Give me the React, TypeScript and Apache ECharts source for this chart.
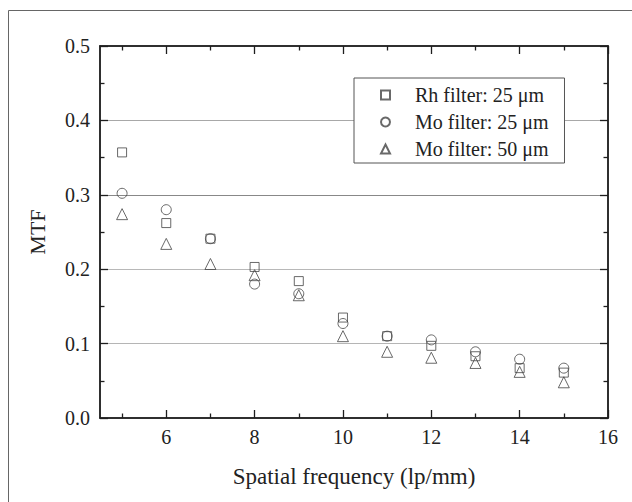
import React, { useEffect, useRef } from "react";
import * as echarts from "echarts";

const freq = [5, 6, 7, 8, 9, 10, 11, 12, 13, 14, 15];
const rh25 = [0.357, 0.262, 0.241, 0.203, 0.184, 0.135, 0.110, 0.097, 0.083, 0.067, 0.061];
const mo25 = [0.302, 0.280, 0.241, 0.180, 0.167, 0.127, 0.110, 0.105, 0.089, 0.079, 0.067];
const mo50 = [0.274, 0.234, 0.207, 0.192, 0.165, 0.110, 0.089, 0.081, 0.074, 0.062, 0.048];
const seriesNames = ["Rh filter: 25 \u03bcm", "Mo filter: 25 \u03bcm", "Mo filter: 50 \u03bcm"];
const xMajor = [6, 8, 10, 12, 14, 16];
const xMinor = [5, 7, 9, 11, 13, 15];

const FONT = "Liberation Serif";
const INK = "#222";
const MARK = "#444";

export default function App() {
  const ref = useRef<HTMLDivElement>(null);
  useEffect(() => {
    const chart = echarts.init(ref.current!, null, { renderer: "svg" });
    const gridRect = () => ({ left: 100, top: 46, right: 24, bottom: 84, containLabel: false });
    const baseX = () => ({
      type: "value",
      min: 4.5,
      max: 16,
      splitLine: { show: false },
    });
    const baseY = () => ({ type: "value", min: 0, max: 0.5, interval: 0.1 });
    const tick = () => ({ color: "#1e1e1e", width: 1.3 });
    const line = () => ({ color: INK, width: 1.5 });
    const MAJ = 8;
    const MIN = 4.5;
    const sym = (name: string, symbol: string, data: number[], size: number) => ({
      name,
      type: "scatter",
      symbol,
      symbolSize: size,
      xAxisIndex: 0,
      yAxisIndex: 0,
      data: freq.map((f, i) => [f, data[i]]),
      itemStyle: { color: "transparent", borderColor: MARK, borderWidth: 1 },
      z: 5,
    });
    chart.setOption({
      animation: false,
      graphic: [
        {
          type: "rect",
          shape: { x: 8.5, y: 10.5, width: 640, height: 500 },
          style: { fill: "none", stroke: "#666", lineWidth: 1 },
          silent: true,
        },
      ],
      grid: [
        { ...gridRect(), show: true, borderColor: INK, borderWidth: 1.5, backgroundColor: "transparent" },
        gridRect(),
      ],
      legend: {
        orient: "vertical",
        left: 354,
        top: 78,
        borderColor: "#555",
        borderWidth: 1,
        backgroundColor: "#fff",
        padding: [7, 16, 4, 26],
        itemGap: 7,
        itemWidth: 9,
        itemHeight: 9,
        textStyle: { fontFamily: FONT, fontSize: 20, color: INK, padding: [0, 0, 0, 20] },
        data: seriesNames,
        z: 10,
      },
      xAxis: [
        {
          ...baseX(),
          gridIndex: 0,
          z: 3,
          position: "bottom",
          name: "Spatial frequency (lp/mm)",
          nameLocation: "middle",
          nameGap: 47,
          nameTextStyle: { fontFamily: FONT, fontSize: 23, color: INK },
          axisLine: { show: true, onZero: false, lineStyle: line() },
          axisTick: { show: true, inside: true, length: MAJ, customValues: xMajor, lineStyle: tick() },
          axisLabel: { customValues: xMajor, fontFamily: FONT, fontSize: 20, color: INK, margin: 9 },
        },
        {
          ...baseX(),
          gridIndex: 0,
          z: 3,
          position: "bottom",
          axisLine: { show: false, onZero: false },
          axisTick: { show: true, inside: true, length: MIN, customValues: xMinor, lineStyle: tick() },
          axisLabel: { show: false },
        },
        {
          ...baseX(),
          gridIndex: 0,
          z: 3,
          position: "top",
          axisLine: { show: true, onZero: false, lineStyle: line() },
          axisTick: { show: true, inside: true, length: MAJ, customValues: xMajor, lineStyle: tick() },
          axisLabel: { show: false },
        },
        {
          ...baseX(),
          gridIndex: 1,
          z: 3,
          position: "top",
          axisLine: { show: false, onZero: false },
          axisTick: { show: true, inside: true, length: MIN, customValues: xMinor, lineStyle: tick() },
          axisLabel: { show: false },
        },
      ],
      yAxis: [
        {
          ...baseY(),
          gridIndex: 0,
          z: 3,
          position: "left",
          name: "MTF",
          nameLocation: "middle",
          nameGap: 52,
          nameRotate: 90,
          nameTextStyle: { fontFamily: FONT, fontSize: 22, color: INK },
          axisLine: { show: true, onZero: false, lineStyle: line() },
          axisTick: { show: true, inside: true, length: MAJ, lineStyle: tick() },
          minorTick: { show: true, splitNumber: 2, length: MIN, lineStyle: tick() },
          axisLabel: {
            formatter: (v: number) => v.toFixed(1),
            fontFamily: FONT,
            fontSize: 20,
            color: INK,
            margin: 10,
          },
          splitLine: { show: false },
        },
        {
          ...baseY(),
          gridIndex: 0,
          z: 3,
          position: "right",
          axisLine: { show: true, onZero: false, lineStyle: line() },
          axisTick: { show: true, inside: true, length: MAJ, lineStyle: tick() },
          minorTick: { show: true, splitNumber: 2, length: MIN, lineStyle: tick() },
          axisLabel: { show: false },
          splitLine: { show: false },
        },
        {
          ...baseY(),
          gridIndex: 1,
          z: 0,
          position: "right",
          axisLine: { show: false, onZero: false },
          axisTick: { show: false },
          axisLabel: { show: false },
          splitLine: {
            show: true,
            lineStyle: {
              color: ["rgba(0,0,0,0)", "#b5b5b5", "#b8b8b8", "#888", "#a8a8a8", "rgba(0,0,0,0)"],
              width: 1.2,
            },
          },
        },
      ],
      series: [
        sym(seriesNames[0], "rect", rh25, 9),
        sym(seriesNames[1], "circle", mo25, 10),
        sym(seriesNames[2], "triangle", mo50, 11),
      ],
    });
    return () => chart.dispose();
  }, []);
  return (
    <div
      ref={ref}
      style={{ position: "fixed", left: 0, top: 0, width: 632, height: 502, background: "#fff" }}
    />
  );
}
